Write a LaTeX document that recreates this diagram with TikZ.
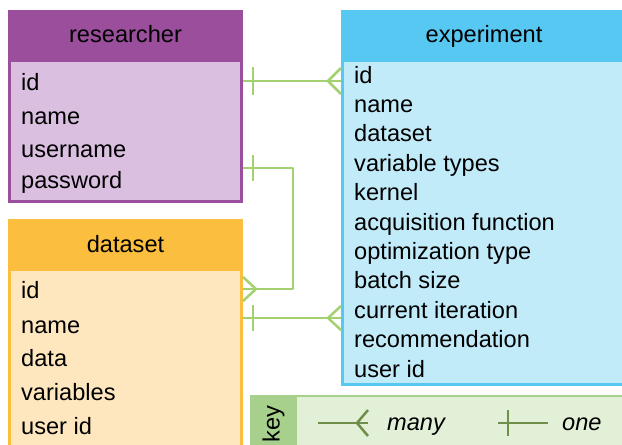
\documentclass[tikz,border=0pt]{standalone}
\usepackage{fontspec}
\setmainfont{Liberation Sans}
\definecolor{resHead}{HTML}{9A4E9C}
\definecolor{resBody}{HTML}{DBBFE0}
\definecolor{datHead}{HTML}{FBBE3E}
\definecolor{datBody}{HTML}{FEE7BE}
\definecolor{expHead}{HTML}{57C8F2}
\definecolor{expBody}{HTML}{C2EBFA}
\definecolor{keyDark}{HTML}{A8D08D}
\definecolor{keyBody}{HTML}{E3F0D8}
\definecolor{linkGreen}{HTML}{A4D16F}
\definecolor{keySym}{HTML}{6F8F48}
\begin{document}
\begin{tikzpicture}[x=1pt, y=-1pt, font=\fontsize{23.6}{28}\selectfont,
  field/.style={anchor=base west, inner sep=0pt},
  title/.style={anchor=base, inner sep=0pt},
  link/.style={draw=linkGreen, line width=2.5pt, line join=round},
  keyline/.style={draw=keySym, line width=2.5pt, line join=round}]
\useasboundingbox (0,0) rectangle (622,445);
\clip (0,0) rectangle (622,445);
% researcher
\fill[resBody] (8,10) rectangle (243,203);
\fill[resHead] (8,10) rectangle (243,62);
\draw[resHead, line width=3pt] (9.5,11.5) rectangle (241.5,201.5);
\node[title] (researcher) at (125.5,42) {researcher};
\foreach \t/\y [count=\i] in {id/90,name/124,username/157,password/188}
  \node[field] (r\i) at (21,\y) {\t};
% dataset
\fill[datBody] (8,219) rectangle (243,445);
\fill[datHead] (8,219) rectangle (243,271);
\draw[datHead, line width=3pt] (9.5,445) -- (9.5,220.5) -- (241.5,220.5) -- (241.5,445);
\node[title] (dataset) at (125.5,252) {dataset};
\foreach \t/\y [count=\i] in {id/298,name/333,data/366,variables/400,user id/434}
  \node[field] (d\i) at (21,\y) {\t};
% experiment
\fill[expBody] (341,10) rectangle (622,386);
\fill[expHead] (341,10) rectangle (622,62);
\draw[expHead, line width=3pt] (622,384.5) -- (342.5,384.5) -- (342.5,11.5) -- (622,11.5);
\node[title] (experiment) at (484,42) {experiment};
\foreach \t [count=\i] in {id,name,dataset,variable types,kernel,acquisition function,optimization type,batch size,current iteration,recommendation,user id}
  \node[field] (e\i) at (354,{83+29.4*(\i-1)}) {\t};
% key
\fill[keyBody] (250,395) rectangle (622,445);
\fill[keyDark] (250,395) rectangle (297,445);
\draw[keyDark, line width=2pt] (251,445) -- (251,396) -- (622,396);
\node[rotate=90, inner sep=0pt] (keylabel) at (273.5,424) {key};
\coordinate (manyA) at (318,423); \coordinate (manyB) at (368,423);
\draw[keyline] (manyA) -- (manyB);
\draw[keyline] (manyB) ++(0,-13) -- ++(-11,13) -- ++(11,13);
\node[field, font=\fontsize{23.6}{28}\selectfont\itshape] (many) at (387,430) {many};
\coordinate (oneA) at (498,423); \coordinate (oneB) at (548,423);
\draw[keyline] (oneA) -- (oneB);
\draw[keyline] ([xshift=10pt]oneA) ++(0,-13) -- ++(0,26);
\node[field, font=\fontsize{23.6}{28}\selectfont\itshape] (one) at (562,430) {one};
% links
\coordinate (rOut1) at (243,81); \coordinate (eIn1) at (341,81);
\draw[link] (rOut1) -- (eIn1);
\draw[link] ([xshift=10pt]rOut1) ++(0,-14) -- ++(0,28);
\draw[link] (eIn1) ++(0,-13) -- ++(-13,13) -- ++(13,13);
\coordinate (rOut2) at (243,168); \coordinate (dIn1) at (243,289);
\draw[link] (rOut2) -- ++(50,0) |- (dIn1);
\draw[link] ([xshift=10pt]rOut2) ++(0,-13) -- ++(0,26);
\draw[link] (dIn1) ++(0,-12) -- ++(13,12) -- ++(-13,12);
\coordinate (dOut2) at (243,318); \coordinate (eIn2) at (341,318);
\draw[link] (dOut2) -- (eIn2);
\draw[link] ([xshift=10pt]dOut2) ++(0,-13) -- ++(0,26);
\draw[link] (eIn2) ++(0,-12) -- ++(-13,12) -- ++(13,12);
\end{tikzpicture}
\end{document}
